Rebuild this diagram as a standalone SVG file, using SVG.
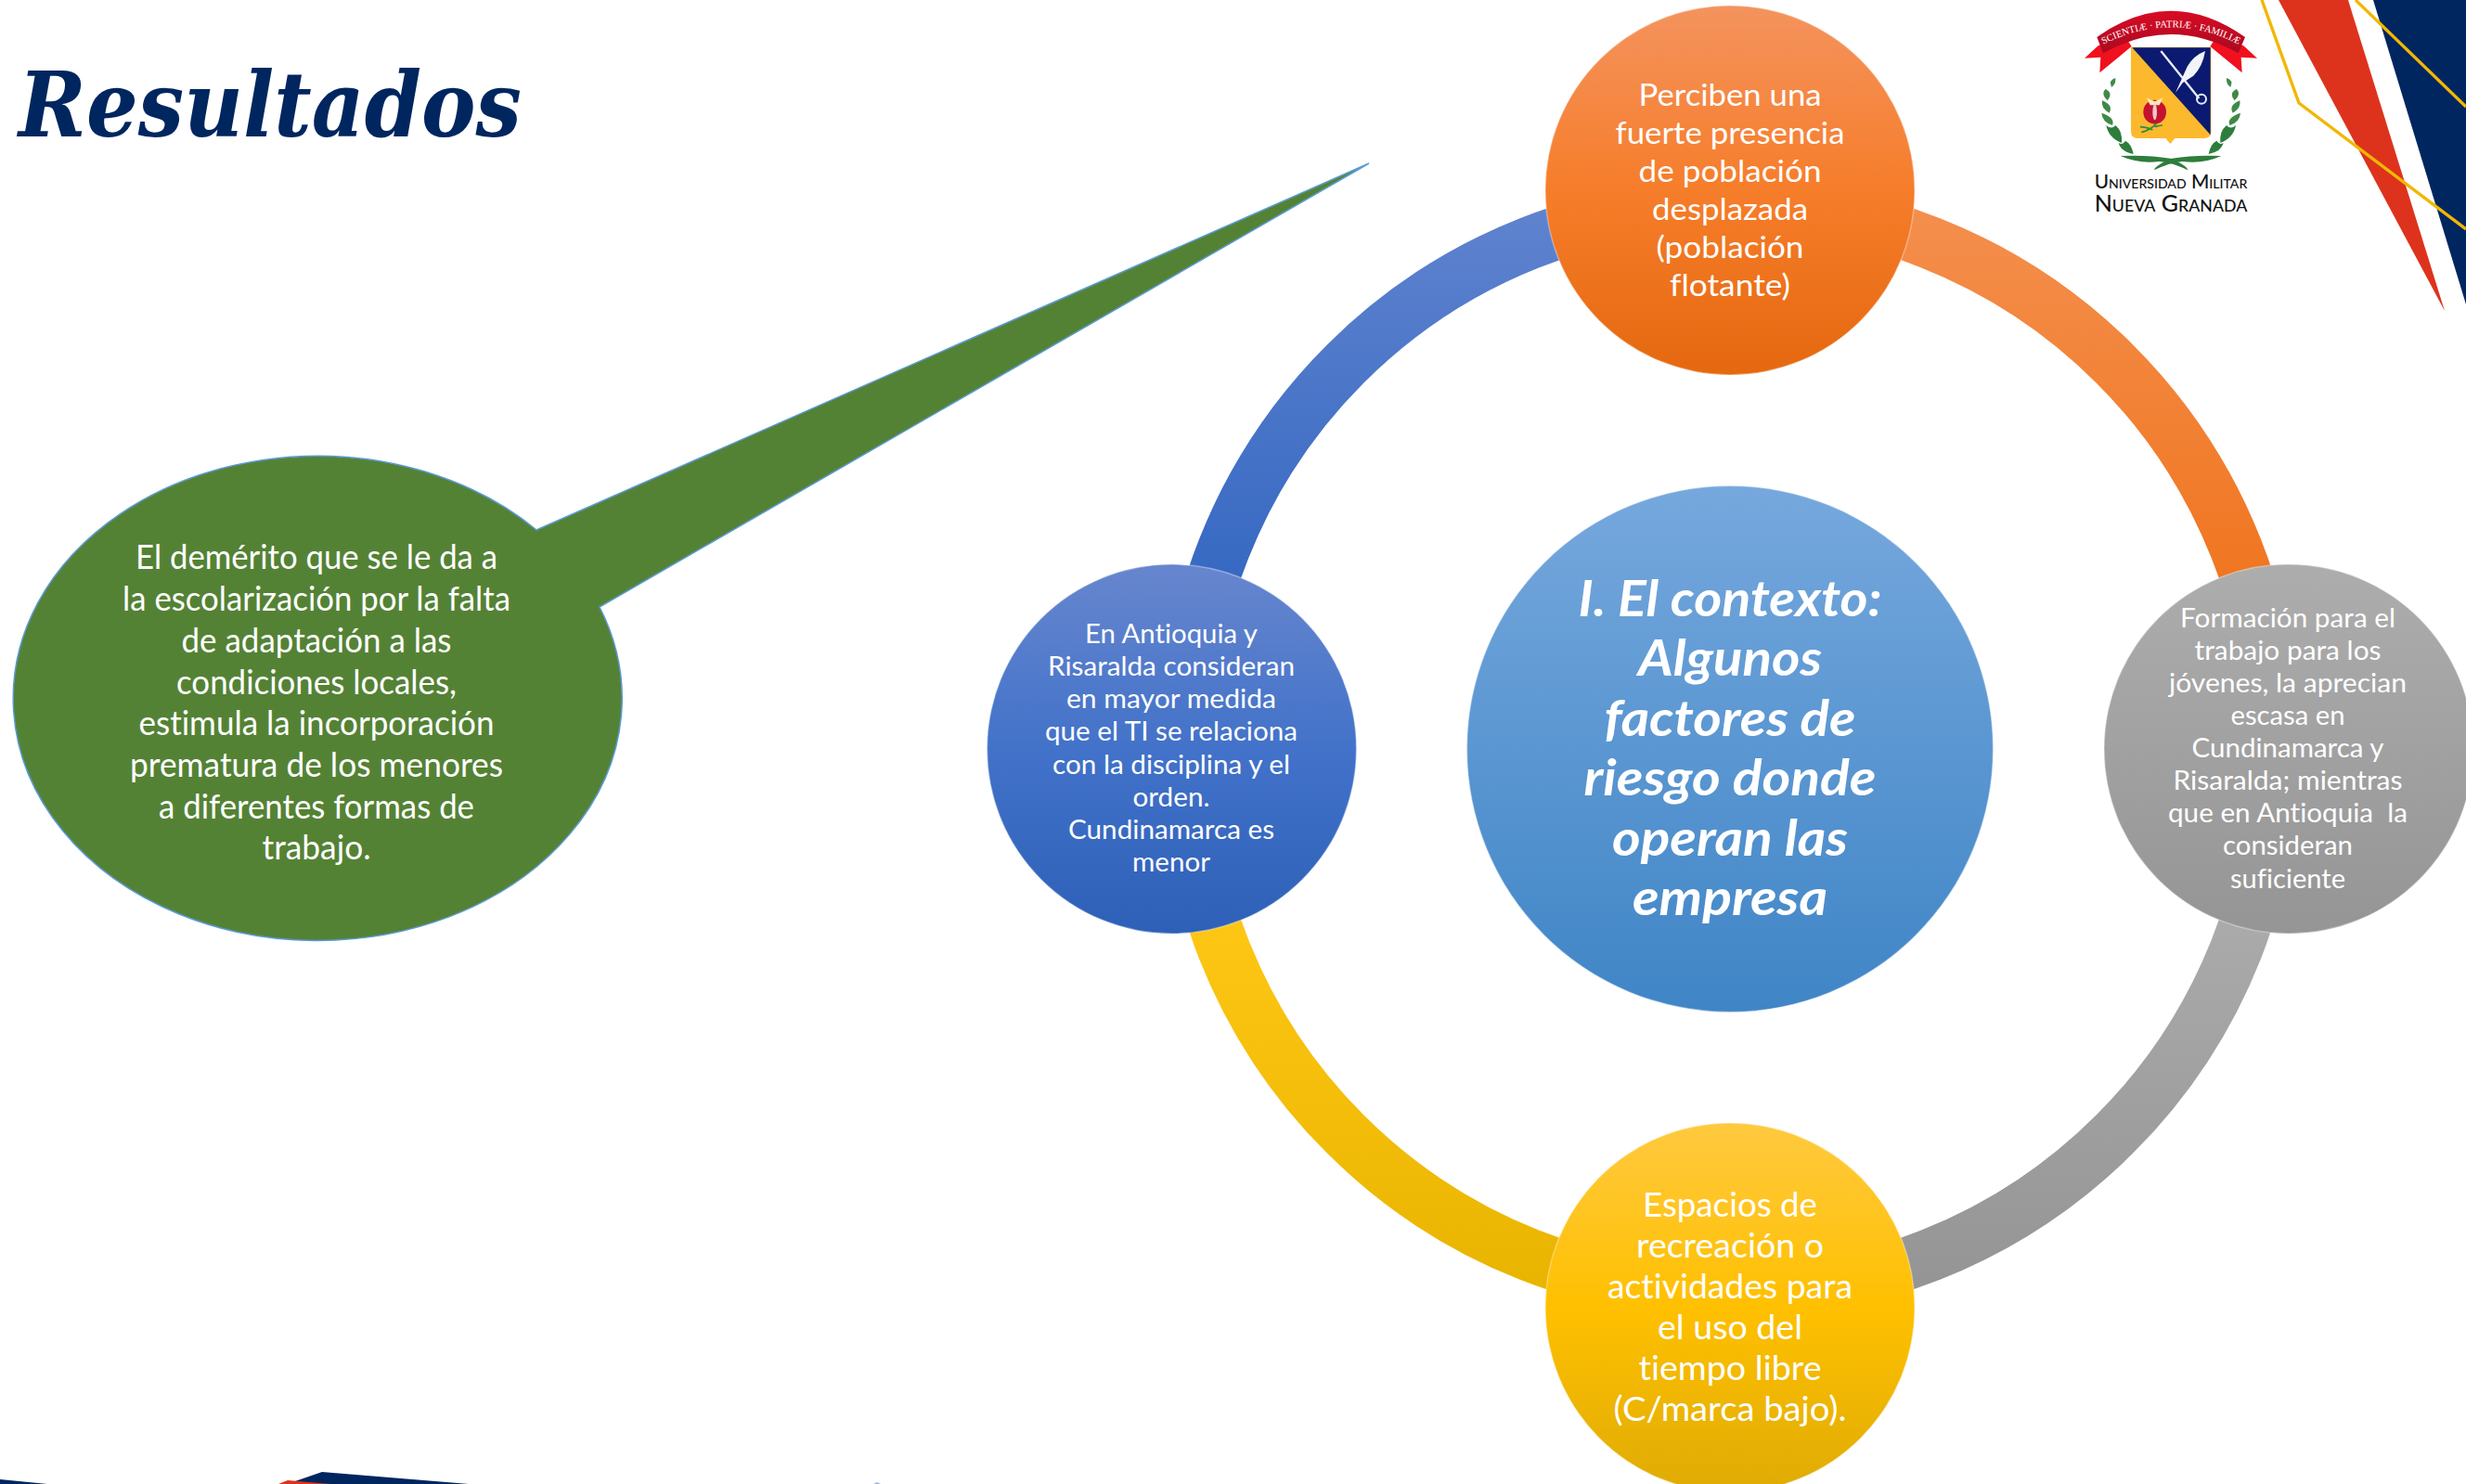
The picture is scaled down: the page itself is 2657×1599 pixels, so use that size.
<svg xmlns="http://www.w3.org/2000/svg" width="2657" height="1599" viewBox="0 0 2657 1599">
<style>
text{font-family:Lato,"Open Sans",sans-serif;fill:#fff;text-anchor:middle;font-variant-ligatures:none}
.title{font-family:"DejaVu Serif",serif;font-weight:bold;font-style:italic;fill:#00265F;text-anchor:start}
.ctr{font-weight:bold;font-style:italic;font-size:54px}
.g{font-size:37px}.t{font-size:33.5px}.b{font-size:36.5px}.s{font-size:29px}
.arc{fill:none;stroke-width:57}
.circ{stroke:#fff;stroke-opacity:.35;stroke-width:1.5}
.navy{fill:#00265F}.red{fill:#DD331D}
.yl{fill:none;stroke:#F2B705;stroke-width:3.4}
.lf{fill:#3F8A47}.lf2{fill:#2E7D3C}
.lg{font-variant-caps:small-caps;font-weight:500}
</style>
<defs>
<linearGradient id="gO" x1="0" y1="0" x2="0" y2="1"><stop offset="0" stop-color="#F4935E"/><stop offset=".5" stop-color="#F67D2A"/><stop offset="1" stop-color="#E5680F"/></linearGradient>
<linearGradient id="gC" x1="0" y1="0" x2="0" y2="1"><stop offset="0" stop-color="#76A8DD"/><stop offset="1" stop-color="#3F85C6"/></linearGradient>
<linearGradient id="gB" x1="0" y1="0" x2="0" y2="1"><stop offset="0" stop-color="#6786CE"/><stop offset=".5" stop-color="#4272C9"/><stop offset="1" stop-color="#2E60B8"/></linearGradient>
<linearGradient id="gG" x1="0" y1="0" x2="0" y2="1"><stop offset="0" stop-color="#ADADAD"/><stop offset="1" stop-color="#959595"/></linearGradient>
<linearGradient id="gY" x1="0" y1="0" x2="0" y2="1"><stop offset="0" stop-color="#FFC93F"/><stop offset=".5" stop-color="#FFC000"/><stop offset="1" stop-color="#DFAB05"/></linearGradient>
<linearGradient id="aO" gradientUnits="userSpaceOnUse" x1="0" y1="205" x2="0" y2="640"><stop offset="0" stop-color="#F4904F"/><stop offset="1" stop-color="#F0751F"/></linearGradient>
<linearGradient id="aB" gradientUnits="userSpaceOnUse" x1="0" y1="205" x2="0" y2="640"><stop offset="0" stop-color="#6184CF"/><stop offset="1" stop-color="#3568C2"/></linearGradient>
<linearGradient id="aG" gradientUnits="userSpaceOnUse" x1="0" y1="980" x2="0" y2="1400"><stop offset="0" stop-color="#ABABAB"/><stop offset="1" stop-color="#949494"/></linearGradient>
<linearGradient id="aY" gradientUnits="userSpaceOnUse" x1="0" y1="980" x2="0" y2="1400"><stop offset="0" stop-color="#FFC715"/><stop offset="1" stop-color="#E8B400"/></linearGradient>
<linearGradient id="rib" x1="0" y1="0" x2="0" y2="1"><stop offset="0" stop-color="#D90B25"/><stop offset="1" stop-color="#A90A20"/></linearGradient>
<path id="ribPath" d="M190 148Q417 28 645 148"/>
<g id="laurel">
<path class="lf" d="M238 252Q215 258 225 282Q240 272 238 252Z"/>
<path class="lf" d="M205 288Q190 305 212 325Q232 300 205 288Z"/>
<path class="lf" d="M195 325Q190 350 218 365Q232 340 195 325Z"/>
<path class="lf" d="M193 365Q195 395 228 405Q238 380 193 365Z"/>
<path class="lf2" d="M208 405Q215 445 258 462Q262 425 238 405Q225 420 208 405Z"/>
<path class="lf2" d="M248 462Q255 490 296 498Q290 465 270 455Q262 470 248 462Z"/>
<path class="lf2" d="M255 504Q340 500 415 512Q470 535 472 550Q420 525 380 522Q310 530 255 504Z"/>
</g>
</defs>

<g id="connectors">
<path class="arc" stroke="url(#aO)" d="M1864 220.5A586.5 586.5 0 0 1 2450.5 807"/>
<path class="arc" stroke="url(#aG)" d="M2450.5 807A586.5 586.5 0 0 1 1864 1393.5"/>
<path class="arc" stroke="url(#aY)" d="M1864 1393.5A586.5 586.5 0 0 1 1277.5 807"/>
<path class="arc" stroke="url(#aB)" d="M1277.5 807A586.5 586.5 0 0 1 1864 220.5"/>
</g>

<g id="decor-top-right">
<polygon class="red" points="2455,0 2530,0 2634,335"/>
<polygon class="navy" points="2557,0 2657,0 2657,328"/>
<polyline class="yl" points="2437,0 2477,111 2657,247"/>
<polyline class="yl" points="2538,0 2657,115"/>
</g>
<g id="decor-bottom">
<polygon class="navy" points="0,1594 51,1599 0,1599"/>
<polygon class="navy" points="318,1596 347,1586 505,1599 330,1599"/>
<polygon class="red" points="300,1599 310,1595 356,1599"/>
<polygon fill="#9DB7D5" points="941,1599 945,1597 949,1599"/>
</g>

<text id="title" class="title" x="20" y="147" font-size="97" textLength="542" lengthAdjust="spacingAndGlyphs">Resultados</text>

<g id="logo" transform="translate(2200 0) scale(.33333)">
<path fill="#F0101E" d="M182 148L138 188L190 185L187 235L290 150L270 120Z"/>
<path fill="#F0101E" d="M652 148L696 188L644 185L647 235L544 150L564 120Z"/>
<path fill="url(#rib)" d="M178 120Q417 -50 657 120L635 172Q417 50 198 172Z"/>
<text style="font-family:'Liberation Serif',serif" font-size="32"><textPath href="#ribPath" startOffset="50%">SCIENTIÆ · PATRIÆ · FAMILIÆ</textPath></text>
<path fill="#FDB92D" d="M288 152H547V425Q547 447 525 447H430L415 465L400 447H310Q288 447 288 425Z"/>
<path fill="#0B1A70" d="M292 154H545V436Z"/>
<path fill="none" stroke="#E8ECF7" stroke-width="7" d="M385 165L508 318"/>
<circle cx="516" cy="320" r="15" fill="none" stroke="#E8ECF7" stroke-width="6"/>
<path fill="#F2F4FA" d="M432 300L470 215Q490 180 528 165Q520 215 490 245L455 268Z"/>
<ellipse cx="365" cy="362" rx="37" ry="39" fill="#C4122F"/>
<path fill="#F9E7B5" d="M338 316L365 328L392 316L380 340H350Z"/>
<ellipse cx="365" cy="362" rx="7" ry="26" fill="#E8C9C9"/>
<path fill="none" stroke="#2E8B45" stroke-width="5" d="M322 428Q350 420 370 400M318 410Q345 412 358 420M365 410Q380 405 390 405"/>
<use href="#laurel"/>
<use href="#laurel" transform="translate(835 0) scale(-1 1)"/>
<text class="lg" x="417" y="610" font-size="62" textLength="494" lengthAdjust="spacingAndGlyphs" style="fill:#111">Universidad Militar</text>
<text class="lg" x="417" y="683" font-size="76" textLength="494" lengthAdjust="spacingAndGlyphs" style="fill:#111">Nueva Granada</text>
</g>

<g id="callout">
<path fill="#548235" stroke="#5B9BD5" stroke-width="1.5" d="M578 571L1475 176L646 654A328 261 0 1 1 578 571Z"/>
<g class="g">
<text x="341" y="613" textLength="390" lengthAdjust="spacingAndGlyphs">El demérito que se le da a</text>
<text x="341" y="658" textLength="418" lengthAdjust="spacingAndGlyphs">la escolarización por la falta</text>
<text x="341" y="703" textLength="291" lengthAdjust="spacingAndGlyphs">de adaptación a las</text>
<text x="341" y="748" textLength="302" lengthAdjust="spacingAndGlyphs">condiciones locales,</text>
<text x="341" y="792" textLength="383" lengthAdjust="spacingAndGlyphs">estimula la incorporación</text>
<text x="341" y="837" textLength="402" lengthAdjust="spacingAndGlyphs">prematura de los menores</text>
<text x="341" y="882" textLength="340" lengthAdjust="spacingAndGlyphs">a diferentes formas de</text>
<text x="341" y="926" textLength="117" lengthAdjust="spacingAndGlyphs">trabajo.</text>
</g>
</g>

<g id="node-center">
<circle class="circ" cx="1864" cy="807" r="283.5" fill="url(#gC)"/>
<g class="ctr">
<text x="1864" y="664" textLength="327" lengthAdjust="spacingAndGlyphs">I. El contexto:</text>
<text x="1864" y="728" textLength="198" lengthAdjust="spacingAndGlyphs">Algunos</text>
<text x="1864" y="793" textLength="271" lengthAdjust="spacingAndGlyphs">factores de</text>
<text x="1864" y="857" textLength="315" lengthAdjust="spacingAndGlyphs">riesgo donde</text>
<text x="1864" y="922" textLength="254" lengthAdjust="spacingAndGlyphs">operan las</text>
<text x="1864" y="986" textLength="210" lengthAdjust="spacingAndGlyphs">empresa</text>
</g>
</g>

<g id="node-top">
<circle class="circ" cx="1864" cy="205" r="199" fill="url(#gO)"/>
<g class="t">
<text x="1864" y="114" textLength="197" lengthAdjust="spacingAndGlyphs">Perciben una</text>
<text x="1864" y="155" textLength="247" lengthAdjust="spacingAndGlyphs">fuerte presencia</text>
<text x="1864" y="196" textLength="197" lengthAdjust="spacingAndGlyphs">de población</text>
<text x="1864" y="237" textLength="168" lengthAdjust="spacingAndGlyphs">desplazada</text>
<text x="1864" y="278" textLength="159" lengthAdjust="spacingAndGlyphs">(población</text>
<text x="1864" y="319" textLength="130" lengthAdjust="spacingAndGlyphs">flotante)</text>
</g>
</g>

<g id="node-right">
<circle class="circ" cx="2466" cy="807" r="199" fill="url(#gG)"/>
<g class="s">
<text x="2465" y="676" textLength="232" lengthAdjust="spacingAndGlyphs">Formación para el</text>
<text x="2465" y="711" textLength="201" lengthAdjust="spacingAndGlyphs">trabajo para los</text>
<text x="2465" y="746" textLength="256" lengthAdjust="spacingAndGlyphs">jóvenes, la aprecian</text>
<text x="2465" y="781" textLength="123" lengthAdjust="spacingAndGlyphs">escasa en</text>
<text x="2465" y="816" textLength="207" lengthAdjust="spacingAndGlyphs">Cundinamarca y</text>
<text x="2465" y="851" textLength="247" lengthAdjust="spacingAndGlyphs">Risaralda; mientras</text>
<text x="2465" y="886" textLength="258" lengthAdjust="spacingAndGlyphs" xml:space="preserve">que en Antioquia  la</text>
<text x="2465" y="921" textLength="140" lengthAdjust="spacingAndGlyphs">consideran</text>
<text x="2465" y="957" textLength="124" lengthAdjust="spacingAndGlyphs">suficiente</text>
</g>
</g>

<g id="node-bottom">
<circle class="circ" cx="1864" cy="1409" r="199" fill="url(#gY)"/>
<g class="b">
<text x="1864" y="1311" textLength="188" lengthAdjust="spacingAndGlyphs">Espacios de</text>
<text x="1864" y="1355" textLength="202" lengthAdjust="spacingAndGlyphs">recreación o</text>
<text x="1864" y="1399" textLength="264" lengthAdjust="spacingAndGlyphs">actividades para</text>
<text x="1864" y="1443" textLength="156" lengthAdjust="spacingAndGlyphs">el uso del</text>
<text x="1864" y="1487" textLength="197" lengthAdjust="spacingAndGlyphs">tiempo libre</text>
<text x="1864" y="1531" textLength="251" lengthAdjust="spacingAndGlyphs">(C/marca bajo).</text>
</g>
</g>

<g id="node-left">
<circle class="circ" cx="1262.5" cy="807" r="199" fill="url(#gB)"/>
<g class="s">
<text x="1262" y="693" textLength="186" lengthAdjust="spacingAndGlyphs">En Antioquia y</text>
<text x="1262" y="728" textLength="266" lengthAdjust="spacingAndGlyphs">Risaralda consideran</text>
<text x="1262" y="763" textLength="226" lengthAdjust="spacingAndGlyphs">en mayor medida</text>
<text x="1262" y="798" textLength="272" lengthAdjust="spacingAndGlyphs">que el TI se relaciona</text>
<text x="1262" y="834" textLength="256" lengthAdjust="spacingAndGlyphs">con la disciplina y el</text>
<text x="1262" y="869" textLength="83" lengthAdjust="spacingAndGlyphs">orden.</text>
<text x="1262" y="904" textLength="222" lengthAdjust="spacingAndGlyphs">Cundinamarca es</text>
<text x="1262" y="939" textLength="84" lengthAdjust="spacingAndGlyphs">menor</text>
</g>
</g>
</svg>
